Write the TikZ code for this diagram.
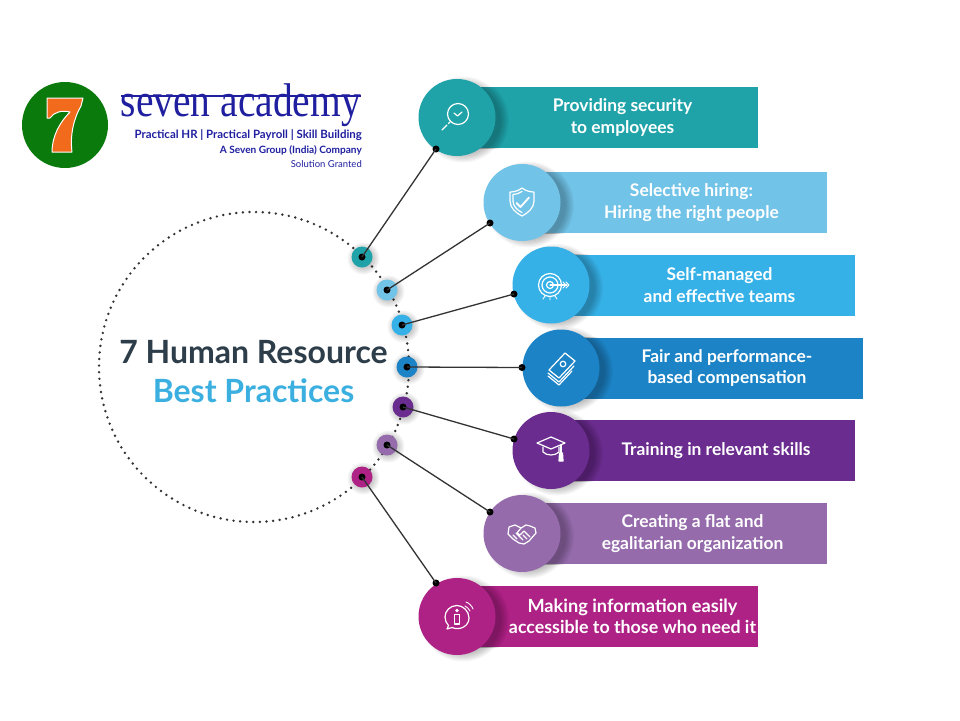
\documentclass[tikz,border=0pt]{standalone}
\usepackage{fontspec}
\usepackage{graphicx}
\setmainfont{Lato}
\newfontfamily\logofont{Liberation Serif}
\definecolor{cTeal}{HTML}{1FA3A9}
\definecolor{cSky}{HTML}{71C3E8}
\definecolor{cBlue}{HTML}{36B1E8}
\definecolor{cDeep}{HTML}{1C84C6}
\definecolor{cPurple}{HTML}{6A2C8E}
\definecolor{cLilac}{HTML}{956BAC}
\definecolor{cMagenta}{HTML}{AE2185}
\definecolor{cInk}{HTML}{2D3E4A}
\definecolor{cTitle}{HTML}{3BB0E0}
\definecolor{cLogo}{HTML}{1F1FA0}
\definecolor{cBadge}{HTML}{0A7A0C}
\definecolor{cSeven}{HTML}{F26A1B}
\tikzset{
  x=1pt,y=-1pt,
  bartext/.style={text=white,font=\bfseries\fontsize{17.4}{21.5}\selectfont,align=center},
  pin/.style={circle,fill=black,inner sep=0pt,minimum size=7pt},
  link/.style={draw=black!80,line width=1.3pt},
  icon/.style={draw=white,line width=1.2pt,line cap=round,line join=round},
  logoline/.style={text=cLogo,anchor=east,inner sep=0pt}
}
% soft shadow: stacked translucent discs
\newcommand{\softdisc}[4]{% x, y, radius, offset
  \foreach \k in {0,...,7}{
    \fill[black,opacity=0.035] (#1+#4,#2+#4) circle ({#3+5-\k*1.2});
  }
}
% one practice: colour, circle x, circle y, bar right end, text x, text
\newcommand{\practice}[6]{
  \softdisc{#2+4}{#3}{38}{2}
  \fill[#1] (#2,#3-30.5) rectangle (#4,#3+30.5);
  \begin{scope}
    \clip (#2,#3-30.5) rectangle (#4,#3+30.5);
    \softdisc{#2+3}{#3}{41}{3}
  \end{scope}
  \fill[#1] (#4-3,#3-30.5) rectangle (#4,#3+30.5);
  \fill[#1] (#2,#3) circle (38.5);
  \node[bartext] at (#5,#3) {#6};
}
\newcommand{\widerline}{\fontsize{18.2}{21.5}\selectfont}
\newcommand{\widenext}{\fontsize{17.8}{21.5}\selectfont}
\begin{document}
\begin{tikzpicture}
\useasboundingbox (0,0) rectangle (960,720);
\fill[white] (0,0) rectangle (960,720);

% logo badge
\fill[cBadge] (65,125) circle (43);
\draw[white,line width=1pt,fill=cSeven,line join=round]
  (47,98) -- (83,98) -- (81,106) .. controls (73,120) and (70,136) .. (72,152)
  -- (52,152) .. controls (52,136) and (60,122) .. (70,112)
  .. controls (62,110) and (54,112) .. (50,118) -- (47,118) -- cycle;

% logo wordmark
\node[text=cLogo,anchor=south east,inner sep=0pt] (brand) at (361,127)
  {\resizebox*{240pt}{43pt}{\logofont seven academy}};
\fill[cLogo] (121,95) rectangle (361,96.5);
\node[logoline,font=\bfseries\fontsize{11.45}{13}\selectfont] at (362,135) {Practical HR | Practical Payroll | Skill Building};
\node[logoline,font=\bfseries\fontsize{10.1}{12}\selectfont] at (362,150.5) {A Seven Group (India) Company};
\node[logoline,font=\fontsize{9.5}{11}\selectfont] at (362,164) {Solution Granted};

% ring of dots
\draw[black!80,line width=2.7pt,line cap=round,dash pattern=on 0pt off 6.6pt] (254,367) circle (155);

% headline
\node[text=cInk,font=\bfseries\fontsize{32}{36}\selectfont] (head) at (253.5,352) {7 Human Resource};
\node[text=cTitle,font=\bfseries\fontsize{32}{36}\selectfont] (sub) at (253.5,391) {Best Practices};

% practice bars
\practice{cTeal}{457}{117.5}{758}{622.5}{Providing security\\to employees}
\practice{cSky}{522}{202.5}{827}{691.5}{Selective hiring:\\Hiring the right people}
\practice{cBlue}{551}{285}{855}{719.5}{Self-managed\\and effective teams}
\practice{cDeep}{561}{368}{863}{727}{Fair and performance-\\based compensation}
\practice{cPurple}{551}{450.5}{855}{716}{Training in relevant skills}
\practice{cLilac}{522}{533.5}{827}{692.5}{Creating a flat and\\egalitarian organization}
\practice{cMagenta}{457}{616.5}{758}{632.5}{\widerline Making information easily\\\widenext accessible to those who need it}

% hubs on the ring
\foreach \n/\c/\x/\y in {a/cTeal/362/257,b/cSky/387/290,c/cBlue/402/325,d/cDeep/407/367,e/cPurple/403/407,f/cLilac/387/445,g/cMagenta/362/477}{
  \softdisc{\x}{\y}{11}{1.5}
  \fill[\c] (\x,\y) circle (10.5);
  \node[pin] (hub\n) at (\x,\y) {};
}

% pins on the practice circles
\foreach \n/\x/\y in {a/436/149,b/490/223,c/514/294,d/522/367.5,e/514/439,f/490/512,g/436/583}{
  \node[pin] (tip\n) at (\x,\y) {};
}
\foreach \n in {a,...,g}{\draw[link] (hub\n.center) -- (tip\n.center);}

% magnifier
\begin{scope}[shift={(458,114)}]
\draw[icon] (0,0) circle (10.5);
\draw[icon] (-4,-1) -- (-0.5,2) -- (4,-2);
\draw[icon] (-8,8) -- (-9.5,9.5);
\draw[icon] (-11,11) -- (-16,16);
\end{scope}

% shield
\begin{scope}[shift={(522,202)}]
\draw[icon] (0,-14) .. controls (-4,-11) and (-8,-10) .. (-12,-10) -- (-12,-1) .. controls (-12,6) and (-6,11) .. (0,14)
 .. controls (6,11) and (12,6) .. (12,-1) -- (12,-10) .. controls (8,-10) and (4,-11) .. (0,-14);
\draw[icon] (0,-10.5) .. controls (-3,-8.5) and (-6,-7.5) .. (-9,-7.5) -- (-9,-1) .. controls (-9,4) and (-5,8) .. (0,10.5);
\draw[icon,line width=1.8pt] (-5.5,1) -- (-1.5,5) -- (7,-4.5);
\end{scope}

% target and arrow
\begin{scope}[shift={(553,285)}]
\draw[icon] (-3,0) circle (11.5);
\draw[icon] (-3,0) circle (8);
\draw[icon] (-3,0) circle (3.5);
\draw[icon] (-3,0) -- (14,0);
\draw[icon,line width=.9pt] (10,-3) -- (13,0) -- (10,3) (13,-3) -- (16,0) -- (13,3);
\draw[icon,line width=.9pt] (-8,11) -- (-10,14) (-3,12) -- (-3,15) (2,11) -- (4,14);
\end{scope}

% stack of banknotes
\begin{scope}[shift={(561,367)}]
\draw[icon] (-12,3) -- (4,-14) -- (14,-6) -- (-2,11) -- cycle;
\fill[white] (2,-3) circle (3.4);
\fill[cDeep] (2,-3) circle (2);
\draw[icon] (-13,6) -- (-2,15) -- (13,-1);
\draw[icon] (-13,9) -- (-2,18) -- (11,4);
\end{scope}

% graduation cap
\begin{scope}[shift={(551,447)}]
\draw[icon] (-14,-4) -- (0,-10) -- (14,-4) -- (0,2) -- cycle;
\draw[icon] (-8,0) -- (-8,5) .. controls (-4,9) and (4,9) .. (8,5) -- (8,0);
\draw[icon] (10,-2) -- (10,6);
\draw[icon,fill=white] (8.5,6) -- (11.5,6) -- (12,14) -- (8,14) -- cycle;
\end{scope}

% handshake
\begin{scope}[shift={(522,534)}]
\draw[icon] (-13,-7) -- (-7,-9) -- (-1,-6) -- (4,-9) -- (8,-8) -- (13,-6) -- (14,-1) -- (7,7) -- (2,10) -- (-3,9) -- (-9,5) -- (-14,0) -- cycle;
\draw[icon] (-1,-6) -- (-5,-1) -- (-2,1) -- (2,-3) -- (8,3) (-9,1) -- (-5,5) (-6,-1) -- (-2,3) (-3,2) -- (1,6) (1,1) -- (5,5);
\end{scope}

% info speech bubble
\begin{scope}[shift={(457,617)}]
\draw[icon] (12,1) .. controls (12,-6) and (6,-11.5) .. (0,-11.5) .. controls (-7,-11.5) and (-12,-6) .. (-12,0)
 .. controls (-12,3.5) and (-10.5,6.5) .. (-8.5,8.5) -- (-10,12) -- (-5,10.5) .. controls (3,14) and (12,9) .. (12,1) -- cycle;
\fill[white] (0,-6.5) circle (1.9);
\draw[icon] (-2.2,-2.5) -- (2.2,-2.5) -- (2.2,7) -- (-2.2,7) -- cycle;
\draw[icon,line width=.9pt] (8,-11) .. controls (10,-10) and (12,-8) .. (13,-6);
\draw[icon,line width=.9pt] (9,-15) .. controls (12,-14) and (15,-11) .. (16,-8);
\end{scope}
\end{tikzpicture}
\end{document}
